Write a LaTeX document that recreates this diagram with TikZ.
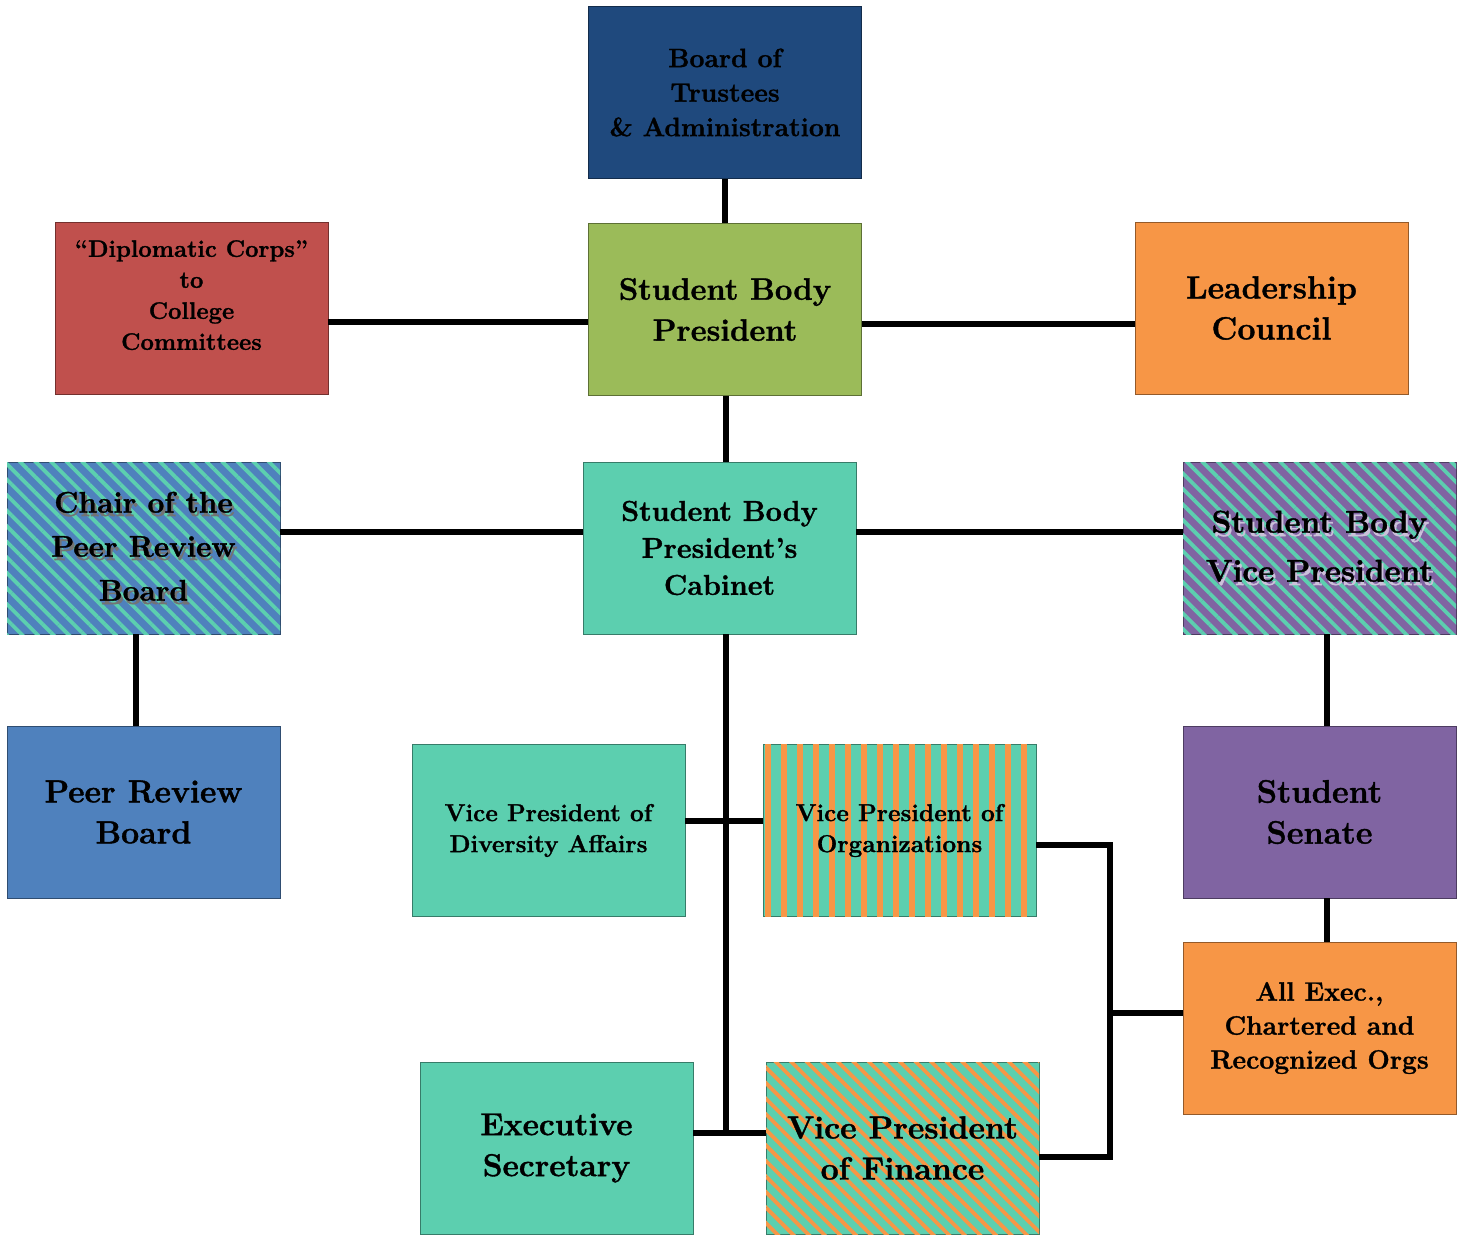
\documentclass[tikz,border=0pt]{standalone}
\usepackage{fontspec}
\setmainfont{Latin Modern Roman}[BoldFeatures={FakeBold=1.2}]
\usepackage{tikz}
\usetikzlibrary{patterns.meta,calc}
\definecolor{navy}{HTML}{1F497D}
\definecolor{olive}{HTML}{9BBB59}
\definecolor{tang}{HTML}{F79646}
\definecolor{brick}{HTML}{C0504D}
\definecolor{mint}{HTML}{5CCFAF}
\definecolor{steel}{HTML}{4F81BD}
\definecolor{plum}{HTML}{8064A2}
\newcommand\fs[2]{\fontsize{#1}{#2}\selectfont}
% text with a drop shadow
\newcommand\shd[2]{\leavevmode\rlap{\kern2pt\raisebox{-3.5pt}{\color{#1}#2}}#2}
\tikzset{
  box/.style={draw=#1!60!black,fill=#1,line width=0.8pt,minimum width=273pt,minimum height=172pt,inner sep=0pt,align=center,text=black},
  diag/.style={postaction={pattern={Lines[angle=-45,distance=11pt,line width=3.8pt]},pattern color=#1}},
  vert/.style={postaction={pattern={Lines[angle=90,distance=16pt,line width=5.5pt]},pattern color=#1}},
  ln/.style={line width=6pt,line join=miter},
}
\begin{document}
\begin{tikzpicture}[x=1pt,y=-1pt]
\useasboundingbox (0,0) rectangle (1465,1235);
% top row
\node[box=navy,font={\fs{26.5}{34.5}\bfseries}] (board) at (725,92.5) {Board of\\Trustees\\\& Administration};
\node[box=olive,font={\fs{31}{41}\bfseries}] (sbp) at (725,309.5) {Student Body\\President};
\node[box=brick,font={\fs{23.8}{31}\bfseries}] (dipl) at (191.5,308) {“Diplomatic Corps”\\to\\College\\Committees\\[-5pt]\mbox{}};
\node[box=tang,font={\fs{32}{41}\bfseries}] (lead) at (1271.5,308) {Leadership\\Council};
% cabinet row
\node[box=mint,font={\fs{28.7}{37}\bfseries}] (cabinet) at (719.5,548) {Student Body\\President’s\\Cabinet};
\node[box=steel,diag=mint,font={\fs{29.8}{44}\bfseries}] (chair) at (143.5,548)
  {\shd{black!55}{Chair of the}\\\shd{black!55}{Peer Review}\\\shd{black!55}{Board}};
\node[box=plum,diag=mint,font={\fs{31.5}{49}\bfseries}] (sbvp) at (1319.5,548)
  {\shd{plum!40!white}{Student Body}\\\shd{plum!40!white}{Vice President}};
% lower rows
\node[box=steel,font={\fs{32}{41}\bfseries}] (prb) at (143.5,812) {Peer Review\\Board};
\node[box=plum,font={\fs{32.5}{41}\bfseries}] (senate) at (1319.5,812) {Student\\Senate};
\node[box=mint,font={\fs{24.4}{31}\bfseries}] (vpda) at (548.5,830.5) {Vice President of\\Diversity Affairs};
\node[box=mint,vert=tang,font={\fs{24.4}{31}\bfseries}] (vpo) at (899.5,830.5) {Vice President of\\Organizations};
\node[box=tang,font={\fs{26.5}{34}\bfseries}] (orgs) at (1319.5,1028) {All Exec.,\\Chartered and\\Recognized Orgs};
\node[box=mint,font={\fs{31.7}{41}\bfseries}] (exec) at (556.5,1148) {Executive\\Secretary};
\node[box=mint,diag=tang,font={\fs{32}{41}\bfseries}] (vpf) at (902.5,1148) {Vice President\\of Finance};
% connectors
\coordinate (t1) at (726,821);
\coordinate (t2) at (726,1133);
\coordinate (bar) at (1110,1013);
\draw[ln] (board) -- (sbp);
\draw[ln] ([yshift=-14pt]dipl.east) -- ([yshift=-14pt]dipl.east -| sbp.west);
\draw[ln] ([yshift=-14pt]sbp.east) -- ([yshift=-14pt]sbp.east -| lead.west);
\draw[ln] (sbp.south -| t1) -- (cabinet.north -| t1);
\draw[ln] ([yshift=16pt]chair.east) -- ([yshift=16pt]chair.east -| cabinet.west);
\draw[ln] ([yshift=16pt]cabinet.east) -- ([yshift=16pt]cabinet.east -| sbvp.west);
\draw[ln] ([xshift=-8pt]chair.south) -- ([xshift=-8pt]prb.north);
\draw[ln] ([xshift=7pt]sbvp.south) -- ([xshift=7pt]senate.north);
\draw[ln] ([xshift=7pt]senate.south) -- ([xshift=7pt]orgs.north);
\draw[ln] (cabinet.south -| t1) -- (t2);
\draw[ln] (vpda.east |- t1) -- (vpo.west |- t1);
\draw[ln] (exec.east |- t2) -- (vpf.west |- t2);
\draw[ln] ([yshift=-14pt]vpo.east) -| (bar) |- ([yshift=-9pt]vpf.east);
\draw[ln] (bar) -- (orgs.west |- bar);
\end{tikzpicture}
\end{document}
